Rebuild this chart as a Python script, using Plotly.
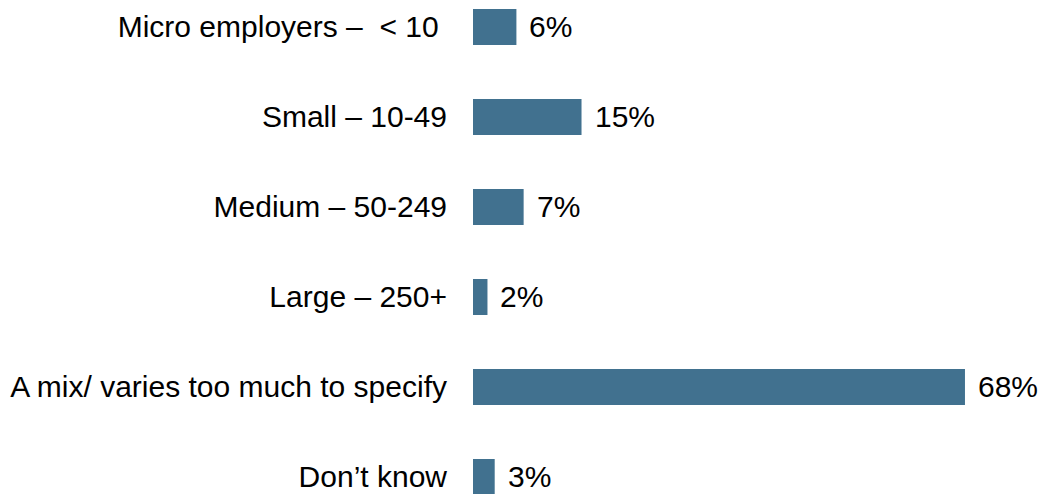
import plotly.graph_objects as go

categories = [
    "Micro employers –  < 10\u00a0",
    "Small – 10-49",
    "Medium – 50-249",
    "Large – 250+",
    "A mix/ varies too much to specify",
    "Don’t know",
]
values = [6, 15, 7, 2, 68, 3]
value_labels = [f"{v}%" for v in values]

BAR_COLOR = "#41718f"
FONT = "Liberation Sans, Arial, sans-serif"

fig = go.Figure(
    go.Bar(
        x=values,
        y=categories,
        orientation="h",
        marker=dict(color=BAR_COLOR, line=dict(width=0)),
        width=0.4,
        hoverinfo="skip",
    )
)

for cat, v, lab in zip(categories, values, value_labels):
    fig.add_annotation(
        x=v, y=cat, text=lab, showarrow=False,
        xanchor="left", yanchor="middle", xshift=11,
        font=dict(family=FONT, size=30, color="black"),
    )

fig.update_layout(
    width=1038,
    height=486,
    margin=dict(l=465, r=0, t=0, b=0),
    paper_bgcolor="white",
    plot_bgcolor="white",
    showlegend=False,
    font=dict(family=FONT, size=30, color="black"),
    xaxis=dict(
        range=[0, 79.2],
        visible=False,
        showgrid=False,
        zeroline=False,
        fixedrange=True,
    ),
    yaxis=dict(
        type="category",
        categoryorder="array",
        categoryarray=categories,
        range=[5.189, -0.211],
        showgrid=False,
        zeroline=False,
        showline=False,
        ticks="",
        ticklabelstandoff=25,
        tickfont=dict(family=FONT, size=30, color="black"),
        fixedrange=True,
    ),
)

fig.write_html("out.html")
